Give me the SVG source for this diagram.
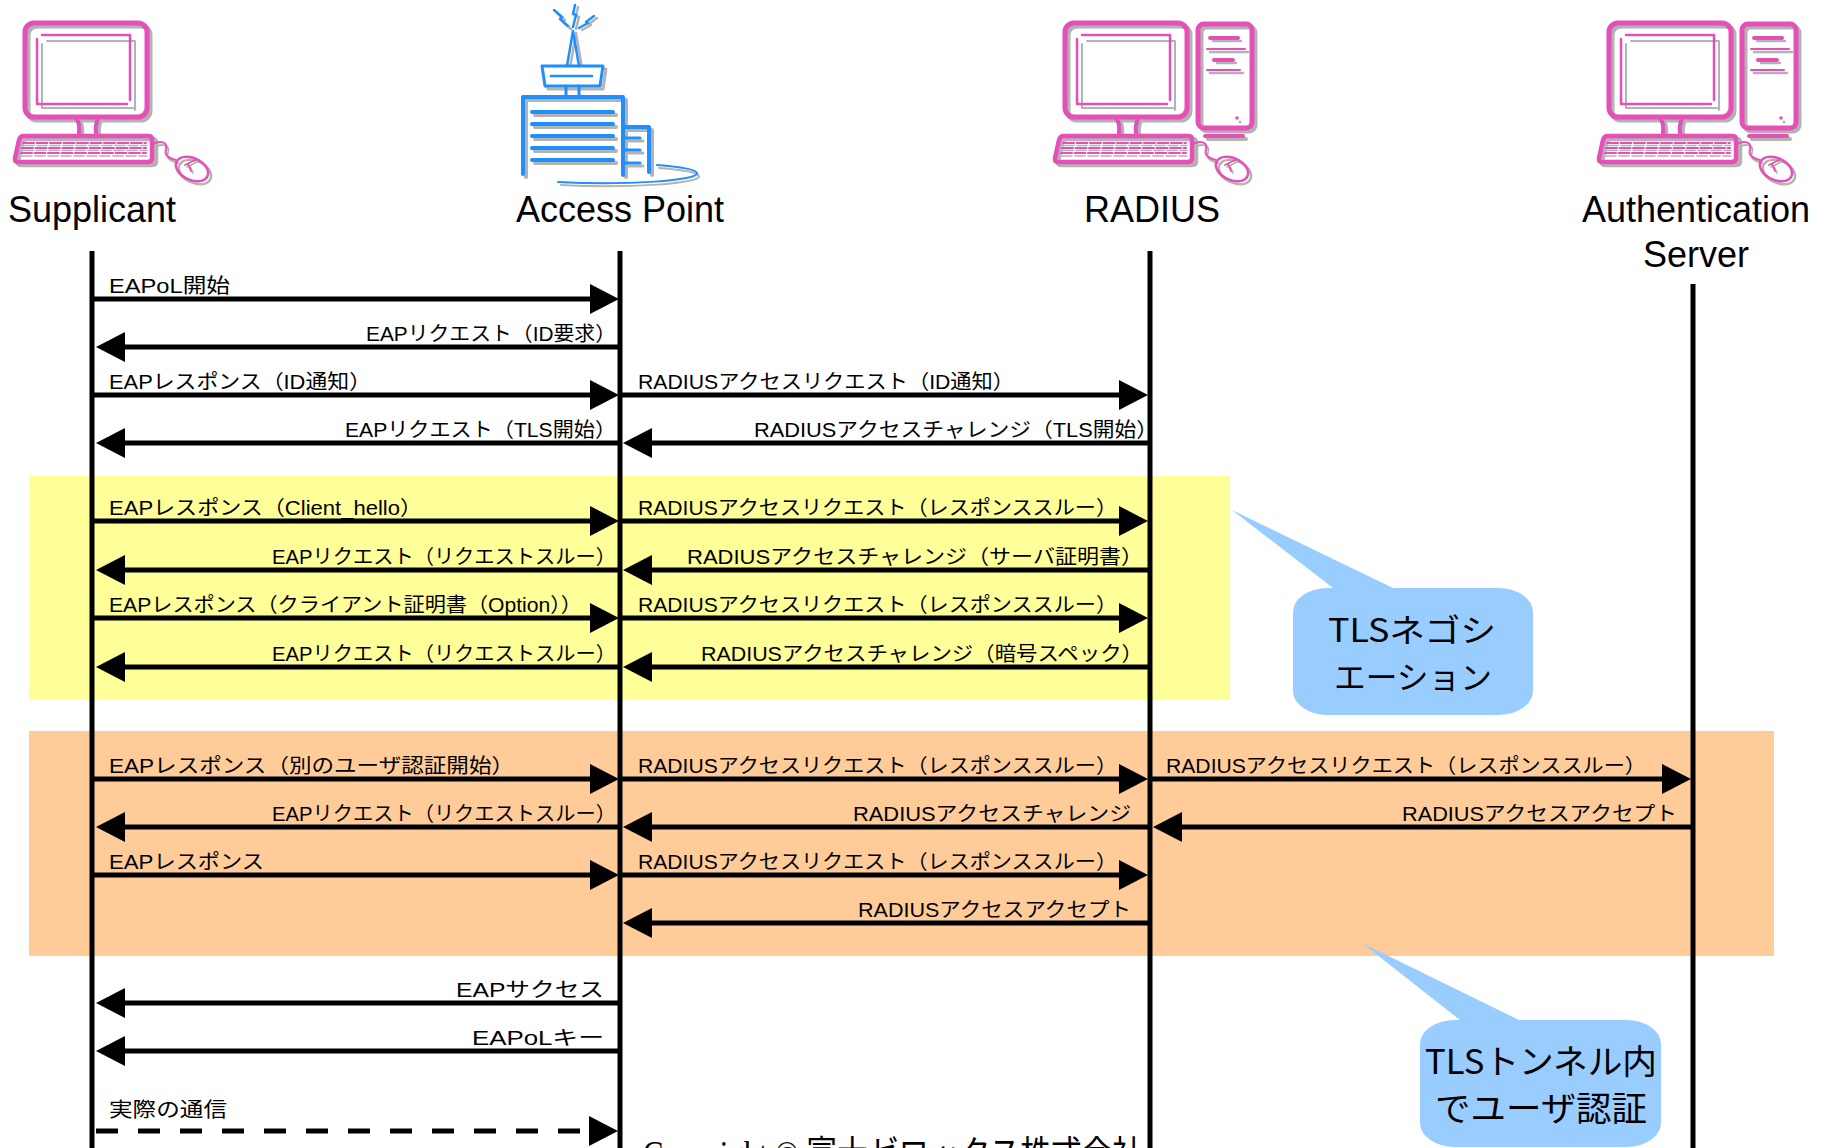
<svg xmlns="http://www.w3.org/2000/svg" xmlns:xlink="http://www.w3.org/1999/xlink" width="1832" height="1148" viewBox="0 0 1832 1148">
  <style>
    .ll { stroke: #000; stroke-width: 5; }
    .msg { stroke: #000; stroke-width: 5; fill: none; marker-end: url(#ah); }
    .dash { stroke-dasharray: 22 20; }
    .lbl { font-family: "Liberation Sans", "Noto Sans CJK JP", sans-serif; font-size: 20px; fill: #000; }
    .end { text-anchor: end; }
    .title { font-family: "Liberation Sans", Arial, sans-serif; font-size: 36px; fill: #000; text-anchor: middle; }
    .note { font-family: "Noto Sans CJK JP", sans-serif; fill: #000; text-anchor: middle; }
    .pk { stroke: #E54FB6; fill: none; stroke-linecap: round; stroke-linejoin: round; }
    .gy { stroke: #B3B3B3; fill: none; stroke-linecap: round; stroke-linejoin: round; }
    .bl { stroke: #1F8FFF; fill: none; stroke-linecap: round; stroke-linejoin: round; }
    .callout { fill: #99CCFF; }
  </style>
  <defs>
    <marker id="ah" markerUnits="userSpaceOnUse" markerWidth="30" markerHeight="32" refX="1" refY="16" orient="auto" viewBox="0 0 30 32">
      <path d="M0,1 L29,16 L0,31 Z" fill="#000"/>
    </marker>

    <!-- desktop PC: monitor, keyboard and mouse -->
    <g id="pc">
      <rect class="gy" x="28" y="26" width="122" height="94" rx="9" stroke-width="5"/>
      <rect class="pk" x="25" y="23" width="122" height="94" rx="9" stroke-width="5" fill="#fff"/>
      <path class="gy" d="M47,41 H135 V110 M42,44 V108 H135" stroke-width="2"/>
      <path class="pk" d="M42,35 H130 V100 M37,39 V104 H127" stroke-width="2.5"/>
      <path class="gy" d="M80,121 q3,6 2,14 M101,121 q-3,6 -2,14" stroke-width="4"/>
      <path class="pk" d="M77,119 q3,6 2,14 M98,119 q-3,6 -2,14" stroke-width="4"/>
      <path class="gy" d="M27,139 H153 Q156,139 156,143 V161 Q156,165 152,165 H21 Q17,165 18,161 L22,143 Q23,139 27,139 Z" stroke-width="4.5"/>
      <path class="pk" d="M24,136 H149 Q152,136 152,140 V158 Q152,162 148,162 H18 Q14,162 15,158 L19,140 Q20,136 24,136 Z" stroke-width="4.5" fill="#fff"/>
      <path class="gy" d="M24,145.5 H147 M23,150.5 H147 M22,156 H147" stroke-width="1.6" stroke-dasharray="10 3"/>
      <path class="pk" d="M23,143 H146 M22,148 H146 M21,153 H146" stroke-width="2" stroke-dasharray="11 2.5"/>
      <path class="gy" d="M155,147 C162,143 170,145 168,152 C166,158 170,161 178,163" stroke-width="2"/>
      <path class="pk" d="M153,144 C160,140 168,142 166,149 C164,155 168,158 176,160" stroke-width="2"/>
      <ellipse class="gy" cx="195" cy="172" rx="17" ry="11" transform="rotate(25 195 172)" stroke-width="2.5"/>
      <ellipse class="pk" cx="192" cy="169" rx="17" ry="11" transform="rotate(25 192 169)" stroke-width="2.5"/>
      <path class="gy" d="M187,167 L197,162 M190,166 L193,173" stroke-width="1.6"/>
      <path class="pk" d="M185,165 L195,160 M188,164 L191,171" stroke-width="1.8"/>
    </g>

    <!-- tower case placed next to the monitor -->
    <g id="tower">
      <rect class="gy" x="161" y="27" width="54" height="104" rx="6" stroke-width="5"/>
      <rect class="pk" x="158" y="24" width="54" height="104" rx="6" stroke-width="5" fill="#fff"/>
      <path class="gy" d="M173,41 H201 M170,52 H208 M177,63 H196 M170,73 H203" stroke-width="2.5"/>
      <path class="pk" d="M170,38 H198 M174,60 H193" stroke-width="4"/>
      <path class="pk" d="M167,49 H205 M167,70 H200" stroke-width="2"/>
      <circle cx="197" cy="118" r="1.8" fill="#E54FB6"/>
      <circle cx="200" cy="122" r="1.5" fill="#B3B3B3"/>
      <path class="gy" d="M168,139 H206" stroke-width="4"/>
      <path class="pk" d="M165,136 H203" stroke-width="4"/>
    </g>
  </defs>

  <rect x="0" y="0" width="1832" height="1148" fill="#fff"/>

  <!-- phase bands -->
  <rect id="band-tls" x="29" y="476" width="1201" height="224" fill="#FFFF99"/>
  <rect id="band-tunnel" x="29" y="731" width="1745" height="225" fill="#FFCC99"/>

  <!-- annotations -->
  <g id="note-tls">
    <path class="callout" d="M1328,588 L1333,588 L1232,510 L1393,588 L1498,588 A35,24 0 0 1 1533,612 L1533,691 A35,24 0 0 1 1498,715 L1328,715 A35,24 0 0 1 1293,691 L1293,612 A35,24 0 0 1 1328,588 Z"/>
    <text class="note" x="1412" y="642" font-size="32" textLength="168" lengthAdjust="spacingAndGlyphs">TLSネゴシ</text>
    <text class="note" x="1413" y="689" font-size="32" textLength="158" lengthAdjust="spacingAndGlyphs">エーション</text>
  </g>
  <g id="note-tunnel">
    <path class="callout" d="M1455,1020 L1460,1020 L1362,943 L1519,1020 L1626,1020 A35,24 0 0 1 1661,1044 L1661,1123 A35,24 0 0 1 1626,1147 L1455,1147 A35,24 0 0 1 1420,1123 L1420,1044 A35,24 0 0 1 1455,1020 Z"/>
    <text class="note" x="1541" y="1074" font-size="34" textLength="232" lengthAdjust="spacingAndGlyphs">TLSトンネル内</text>
    <text class="note" x="1541" y="1121" font-size="34" textLength="212" lengthAdjust="spacingAndGlyphs">でユーザ認証</text>
  </g>

  <!-- lifelines -->
  <g id="lifelines">
    <line class="ll" x1="92" y1="251" x2="92" y2="1148"/>
    <line class="ll" x1="620" y1="251" x2="620" y2="1148"/>
    <line class="ll" x1="1150" y1="251" x2="1150" y2="1148"/>
    <line class="ll" x1="1693" y1="284" x2="1693" y2="1148"/>
  </g>

  <!-- messages -->
  <g id="connectors">
    <line class="msg" x1="92" y1="299" x2="591" y2="299"/>
    <line class="msg" x1="620" y1="347" x2="124" y2="347"/>
    <line class="msg" x1="92" y1="395" x2="591" y2="395"/>
    <line class="msg" x1="620" y1="395" x2="1120" y2="395"/>
    <line class="msg" x1="620" y1="443" x2="124" y2="443"/>
    <line class="msg" x1="1150" y1="443" x2="651" y2="443"/>
    <line class="msg" x1="92" y1="521" x2="591" y2="521"/>
    <line class="msg" x1="620" y1="521" x2="1120" y2="521"/>
    <line class="msg" x1="620" y1="570" x2="124" y2="570"/>
    <line class="msg" x1="1150" y1="570" x2="651" y2="570"/>
    <line class="msg" x1="92" y1="618" x2="591" y2="618"/>
    <line class="msg" x1="620" y1="618" x2="1120" y2="618"/>
    <line class="msg" x1="620" y1="667" x2="124" y2="667"/>
    <line class="msg" x1="1150" y1="667" x2="651" y2="667"/>
    <line class="msg" x1="92" y1="779" x2="591" y2="779"/>
    <line class="msg" x1="620" y1="779" x2="1120" y2="779"/>
    <line class="msg" x1="1150" y1="779" x2="1663" y2="779"/>
    <line class="msg" x1="620" y1="827" x2="124" y2="827"/>
    <line class="msg" x1="1150" y1="827" x2="651" y2="827"/>
    <line class="msg" x1="1693" y1="827" x2="1181" y2="827"/>
    <line class="msg" x1="92" y1="875" x2="591" y2="875"/>
    <line class="msg" x1="620" y1="875" x2="1120" y2="875"/>
    <line class="msg" x1="1150" y1="923" x2="651" y2="923"/>
    <line class="msg" x1="620" y1="1003" x2="124" y2="1003"/>
    <line class="msg" x1="620" y1="1051" x2="124" y2="1051"/>
    <line class="msg dash" x1="96" y1="1131" x2="590" y2="1131"/>
  </g>

  <!-- message labels (a closing full-width bracket carries blank space after its ink) -->
  <g id="labels" class="lbl">
    <text x="109" y="293" textLength="121" lengthAdjust="spacingAndGlyphs">EAPoL開始</text>
    <text class="end" x="616" y="341" textLength="250" lengthAdjust="spacingAndGlyphs">EAPリクエスト（ID要求）</text>
    <text x="109" y="389" textLength="262" lengthAdjust="spacingAndGlyphs">EAPレスポンス（ID通知）</text>
    <text x="638" y="389" textLength="376" lengthAdjust="spacingAndGlyphs">RADIUSアクセスリクエスト（ID通知）</text>
    <text class="end" x="616" y="437" textLength="271" lengthAdjust="spacingAndGlyphs">EAPリクエスト（TLS開始）</text>
    <text class="end" x="1158" y="437" textLength="404" lengthAdjust="spacingAndGlyphs">RADIUSアクセスチャレンジ（TLS開始）</text>
    <text x="109" y="515" textLength="313" lengthAdjust="spacingAndGlyphs">EAPレスポンス（Client_hello）</text>
    <text x="638" y="515" textLength="479" lengthAdjust="spacingAndGlyphs">RADIUSアクセスリクエスト（レスポンススルー）</text>
    <text class="end" x="616" y="564" textLength="344" lengthAdjust="spacingAndGlyphs">EAPリクエスト（リクエストスルー）</text>
    <text class="end" x="1143" y="564" textLength="456" lengthAdjust="spacingAndGlyphs">RADIUSアクセスチャレンジ（サーバ証明書）</text>
    <text x="109" y="612" textLength="473" lengthAdjust="spacingAndGlyphs">EAPレスポンス（クライアント証明書（Option））</text>
    <text x="638" y="612" textLength="479" lengthAdjust="spacingAndGlyphs">RADIUSアクセスリクエスト（レスポンススルー）</text>
    <text class="end" x="616" y="661" textLength="344" lengthAdjust="spacingAndGlyphs">EAPリクエスト（リクエストスルー）</text>
    <text class="end" x="1143" y="661" textLength="442" lengthAdjust="spacingAndGlyphs">RADIUSアクセスチャレンジ（暗号スペック）</text>
    <text x="109" y="773" textLength="405" lengthAdjust="spacingAndGlyphs">EAPレスポンス（別のユーザ認証開始）</text>
    <text x="638" y="773" textLength="479" lengthAdjust="spacingAndGlyphs">RADIUSアクセスリクエスト（レスポンススルー）</text>
    <text x="1166" y="773" textLength="480" lengthAdjust="spacingAndGlyphs">RADIUSアクセスリクエスト（レスポンススルー）</text>
    <text class="end" x="616" y="821" textLength="344" lengthAdjust="spacingAndGlyphs">EAPリクエスト（リクエストスルー）</text>
    <text class="end" x="1131" y="821" textLength="278" lengthAdjust="spacingAndGlyphs">RADIUSアクセスチャレンジ</text>
    <text class="end" x="1677" y="821" textLength="275" lengthAdjust="spacingAndGlyphs">RADIUSアクセスアクセプト</text>
    <text x="109" y="869" textLength="155" lengthAdjust="spacingAndGlyphs">EAPレスポンス</text>
    <text x="638" y="869" textLength="479" lengthAdjust="spacingAndGlyphs">RADIUSアクセスリクエスト（レスポンススルー）</text>
    <text class="end" x="1131" y="917" textLength="273" lengthAdjust="spacingAndGlyphs">RADIUSアクセスアクセプト</text>
    <text class="end" x="604" y="997" textLength="148" lengthAdjust="spacingAndGlyphs">EAPサクセス</text>
    <text class="end" x="604" y="1045" textLength="132" lengthAdjust="spacingAndGlyphs">EAPoLキー</text>
    <text x="109" y="1117" textLength="118" lengthAdjust="spacingAndGlyphs">実際の通信</text>
  </g>

  <!-- participants -->
  <g id="node-supplicant">
    <use xlink:href="#pc"/>
    <text class="title" x="92" y="222">Supplicant</text>
  </g>

  <g id="node-access-point">
    <!-- shadow -->
    <g class="gy">
      <path d="M557,13 L565,20 L563,22 L571,29 M578,7 L576,16 L579,17 L576,29 M597,18 L589,24 L591,25 L582,30" stroke-width="2.5"/>
      <path d="M576,33 L570,68 M576,33 L582,68" stroke-width="2.5"/>
      <path d="M545,69 H606 L603,89 H548 Z" stroke-width="3"/>
      <path d="M526,177 V100 H626 V177 M626,130 H652 V175" stroke-width="4"/>
      <path d="M535,115 H616 M535,127 H616 M535,139 H616 M535,151 H616 M535,163 H616" stroke-width="4"/>
      <path d="M628,141 H643 M628,153 H643 M628,166 H643" stroke-width="3"/>
      <path d="M561,185 C630,189 702,183 699,176 C697,171 672,169 659,168" stroke-width="2"/>
    </g>
    <g class="bl">
      <path d="M554,10 L562,17 L560,19 L568,26 M575,5 L573,14 L576,15 L573,27 M594,16 L586,22 L588,23 L579,28" stroke-width="2.5"/>
      <path d="M573,31 L567,66 M573,31 L579,66" stroke-width="2.5"/>
      <path d="M542,66 H603 L600,86 H545 Z" stroke-width="3" fill="#fff"/>
      <path d="M551,76 H592" stroke-width="2.5"/>
      <path d="M566,86 V97 M579,86 V97" stroke-width="3"/>
      <path d="M523,174 V97 H623 V175 M623,127 H649 V172" stroke-width="4"/>
      <path d="M532,112 H613 M532,124 H613 M532,136 H613 M532,148 H613 M532,160 H613" stroke-width="4"/>
      <path d="M625,138 H640 M625,150 H640 M625,163 H640" stroke-width="3"/>
      <path d="M558,182 C627,186 700,180 697,173 C695,168 670,166 657,165" stroke-width="2"/>
    </g>
    <text class="title" x="620" y="222">Access Point</text>
  </g>

  <g id="node-radius">
    <use xlink:href="#pc" transform="translate(1040,0)"/>
    <use xlink:href="#tower" transform="translate(1040,0)"/>
    <text class="title" x="1152" y="222">RADIUS</text>
  </g>

  <g id="node-auth-server">
    <use xlink:href="#pc" transform="translate(1584,0)"/>
    <use xlink:href="#tower" transform="translate(1584,0)"/>
    <text class="title" x="1696" y="222">Authentication</text>
    <text class="title" x="1696" y="267">Server</text>
  </g>

  <text x="643" y="1166" font-family="'Liberation Serif', 'Noto Sans CJK JP', serif" font-size="35" textLength="500" lengthAdjust="spacingAndGlyphs">Copyright © 富士ゼロックス株式会社</text>
</svg>
